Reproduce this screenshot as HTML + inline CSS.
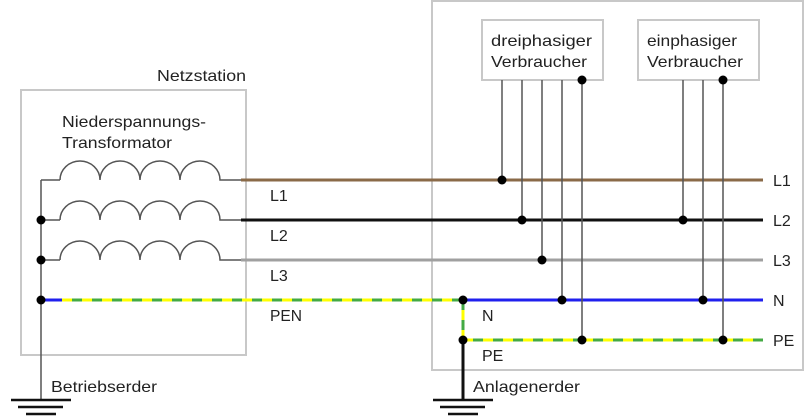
<!DOCTYPE html>
<html><head><meta charset="utf-8"><style>
html,body{margin:0;padding:0;background:#fff;}
svg{display:block;}
text{font-family:"Liberation Sans",sans-serif;font-size:16px;fill:#222;}
</style></head><body>
<svg width="805" height="417" viewBox="0 0 805 417" xmlns="http://www.w3.org/2000/svg">
<rect x="21" y="90" width="225" height="265" fill="none" stroke="#c8c8c8" stroke-width="2"/>
<rect x="432" y="1" width="371" height="369" fill="none" stroke="#c8c8c8" stroke-width="2"/>
<rect x="482" y="20" width="121" height="60" fill="none" stroke="#c8c8c8" stroke-width="2"/>
<rect x="638" y="20" width="121" height="60" fill="none" stroke="#c8c8c8" stroke-width="2"/>
<text x="157" y="81" textLength="89" lengthAdjust="spacingAndGlyphs">Netzstation</text>
<text x="62" y="127" textLength="144" lengthAdjust="spacingAndGlyphs">Niederspannungs-</text>
<text x="62" y="148" textLength="110" lengthAdjust="spacingAndGlyphs">Transformator</text>
<text x="491" y="46" textLength="101" lengthAdjust="spacingAndGlyphs">dreiphasiger</text>
<text x="491" y="67" textLength="96" lengthAdjust="spacingAndGlyphs">Verbraucher</text>
<text x="647" y="46" textLength="90" lengthAdjust="spacingAndGlyphs">einphasiger</text>
<text x="647" y="67" textLength="96" lengthAdjust="spacingAndGlyphs">Verbraucher</text>
<text x="270" y="201">L1</text>
<text x="270" y="241">L2</text>
<text x="270" y="281">L3</text>
<text x="270" y="321" textLength="32" lengthAdjust="spacingAndGlyphs">PEN</text>
<text x="773" y="186">L1</text>
<text x="773" y="226">L2</text>
<text x="773" y="266">L3</text>
<text x="773" y="306">N</text>
<text x="773" y="346">PE</text>
<text x="482" y="321">N</text>
<text x="482" y="361">PE</text>
<text x="51" y="392" textLength="106" lengthAdjust="spacingAndGlyphs">Betriebserder</text>
<text x="473" y="392" textLength="107" lengthAdjust="spacingAndGlyphs">Anlagenerder</text>
<g fill="none" stroke="#555" stroke-width="1.5">
<path d="M41 180 H60 M60 180 a20 19 0 0 1 40 0 a20 19 0 0 1 40 0 a20 19 0 0 1 40 0 a20 19 0 0 1 40 0 H241"/>
<path d="M41 220 H60 M60 220 a20 19 0 0 1 40 0 a20 19 0 0 1 40 0 a20 19 0 0 1 40 0 a20 19 0 0 1 40 0 H241"/>
<path d="M41 260 H60 M60 260 a20 19 0 0 1 40 0 a20 19 0 0 1 40 0 a20 19 0 0 1 40 0 a20 19 0 0 1 40 0 H241"/>
<line x1="41" y1="180" x2="41" y2="400"/>
</g>
<line x1="241" y1="180" x2="763" y2="180" stroke="#8a6a48" stroke-width="3"/>
<line x1="241" y1="220" x2="763" y2="220" stroke="#111" stroke-width="3"/>
<line x1="241" y1="260" x2="763" y2="260" stroke="#a0a0a0" stroke-width="3"/>
<line x1="41" y1="300" x2="62" y2="300" stroke="#2020ee" stroke-width="3"/>
<line x1="62" y1="300" x2="463" y2="300" stroke="#ffff00" stroke-width="3"/>
<line x1="62" y1="300" x2="463" y2="300" stroke="#44aa44" stroke-width="3" stroke-dasharray="0 10 10 0"/>
<line x1="463" y1="300" x2="763" y2="300" stroke="#2020ee" stroke-width="3"/>
<line x1="463" y1="300" x2="463" y2="340" stroke="#ffff00" stroke-width="3"/>
<line x1="463" y1="300" x2="463" y2="340" stroke="#44aa44" stroke-width="3" stroke-dasharray="10 10"/>
<line x1="463" y1="340" x2="763" y2="340" stroke="#ffff00" stroke-width="3"/>
<line x1="463" y1="340" x2="763" y2="340" stroke="#44aa44" stroke-width="3" stroke-dasharray="0 10 10 0"/>
<line x1="463" y1="340" x2="463" y2="400" stroke="#111" stroke-width="3"/>
<g stroke="#555" stroke-width="1.5">
<line x1="502" y1="80" x2="502" y2="180"/>
<line x1="522" y1="80" x2="522" y2="220"/>
<line x1="542" y1="80" x2="542" y2="260"/>
<line x1="562" y1="80" x2="562" y2="300"/>
<line x1="582" y1="80" x2="582" y2="340"/>
<line x1="683" y1="80" x2="683" y2="220"/>
<line x1="703" y1="80" x2="703" y2="300"/>
<line x1="723" y1="80" x2="723" y2="340"/>
</g>
<g fill="#000">
<circle cx="41" cy="220" r="4.5"/><circle cx="41" cy="260" r="4.5"/><circle cx="41" cy="300" r="4.5"/>
<circle cx="463" cy="300" r="4.5"/><circle cx="463" cy="340" r="4.5"/>
<circle cx="502" cy="180" r="4.5"/><circle cx="522" cy="220" r="4.5"/><circle cx="542" cy="260" r="4.5"/>
<circle cx="562" cy="300" r="4.5"/><circle cx="582" cy="340" r="4.5"/><circle cx="582" cy="80" r="4.5"/>
<circle cx="683" cy="220" r="4.5"/><circle cx="703" cy="300" r="4.5"/><circle cx="723" cy="340" r="4.5"/><circle cx="723" cy="80" r="4.5"/>
</g>
<g stroke="#111" stroke-width="2.5">
<line x1="11" y1="400" x2="71" y2="400"/><line x1="18" y1="407" x2="63" y2="407"/><line x1="26" y1="414" x2="56" y2="414"/>
<line x1="433" y1="400" x2="493" y2="400"/><line x1="440" y1="407" x2="485" y2="407"/><line x1="448" y1="414" x2="478" y2="414"/>
</g>
</svg>
</body></html>
